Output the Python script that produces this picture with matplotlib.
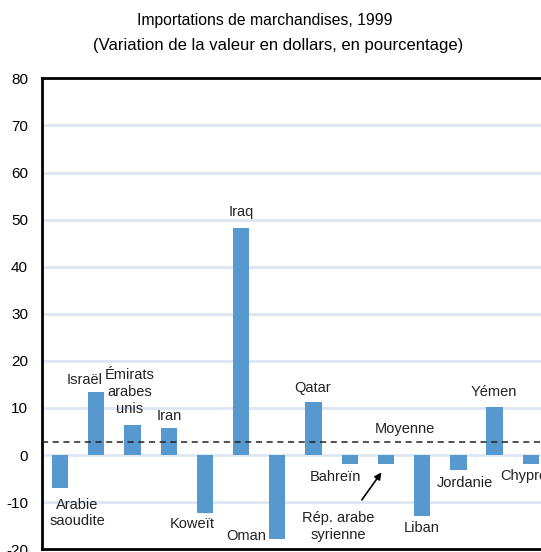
import matplotlib.pyplot as plt

plt.rcParams["font.family"] = ["Liberation Sans Narrow", "Liberation Sans",
                               "DejaVu Sans"]

countries = ["Arabie saoudite", "Israël", "Émirats arabes unis", "Iran",
             "Koweït", "Iraq", "Oman", "Qatar", "Bahreïn",
             "Rép. arabe syrienne", "Liban", "Jordanie", "Yémen", "Chypre"]
values = [-7.0, 13.4, 6.4, 5.7, -12.3, 48.2, -17.8, 11.3, -1.9, -1.9,
          -13.0, -3.2, 10.2, -1.8]
average = 2.8
y_ticks = [-20, -10, 0, 10, 20, 30, 40, 50, 60, 70, 80]

# label text, x (bar index), y (data), horizontal alignment
labels = [
    ("Arabie\nsaoudite", 0.47, -12.3, "center"),
    ("Israël", 0.69, 15.9, "center"),
    ("Émirats\narabes\nunis", 1.93, 13.4, "center"),
    ("Iran", 3.01, 8.3, "center"),
    ("Koweït", 3.65, -14.6, "center"),
    ("Iraq", 5.0, 51.6, "center"),
    ("Oman", 5.14, -17.2, "center"),
    ("Qatar", 6.96, 14.2, "center"),
    ("Moyenne", 9.53, 5.5, "center"),
    ("Bahreïn", 7.6, -4.7, "center"),
    ("Rép. arabe\nsyrienne", 7.68, -15.1, "center"),
    ("Liban", 10.0, -15.5, "center"),
    ("Jordanie", 11.19, -5.9, "center"),
    ("Yémen", 11.99, 13.4, "center"),
    ("Chypre", 12.15, -4.5, "left"),
]

fig = plt.figure(figsize=(5.41, 5.52), dpi=100)
ax = fig.add_axes([0.0776, 0.005, 0.937, 0.853])

x = list(range(len(countries)))
ax.bar(x, values, width=0.45, color="#5799cf", zorder=3)
ax.axhline(average, color="#222222", linestyle=(0, (4, 3)), linewidth=1.1,
           zorder=4)

for text, lx, ly, ha in labels:
    ax.text(lx, ly, text, ha=ha, va="center", fontsize=10.5, color="#222222",
            linespacing=1.25, zorder=5)

ax.annotate("", xy=(8.92, -3.2), xytext=(8.29, -10.0),
            arrowprops=dict(arrowstyle="-|>", color="black", lw=1.2,
                            mutation_scale=10))

ax.set_xlim(-0.5, 13.5)
ax.set_ylim(-20, 80)
ax.set_yticks(y_ticks)
ax.set_yticklabels([str(t) for t in y_ticks])
ax.set_xticks([])
ax.tick_params(axis="y", length=0, labelsize=11, pad=10)
ax.yaxis.grid(True, color="#dce7f3", linewidth=2, zorder=0)
ax.set_axisbelow(True)
for side in ["left", "top", "bottom", "right"]:
    ax.spines[side].set_linewidth(2)

fig.text(0.49, 0.962, "Importations de marchandises, 1999", ha="center",
         va="center", fontsize=11.3)
fig.text(0.515, 0.918, "(Variation de la valeur en dollars, en pourcentage)",
         ha="center", va="center", fontsize=12)

fig.savefig("out.png", dpi=100)
